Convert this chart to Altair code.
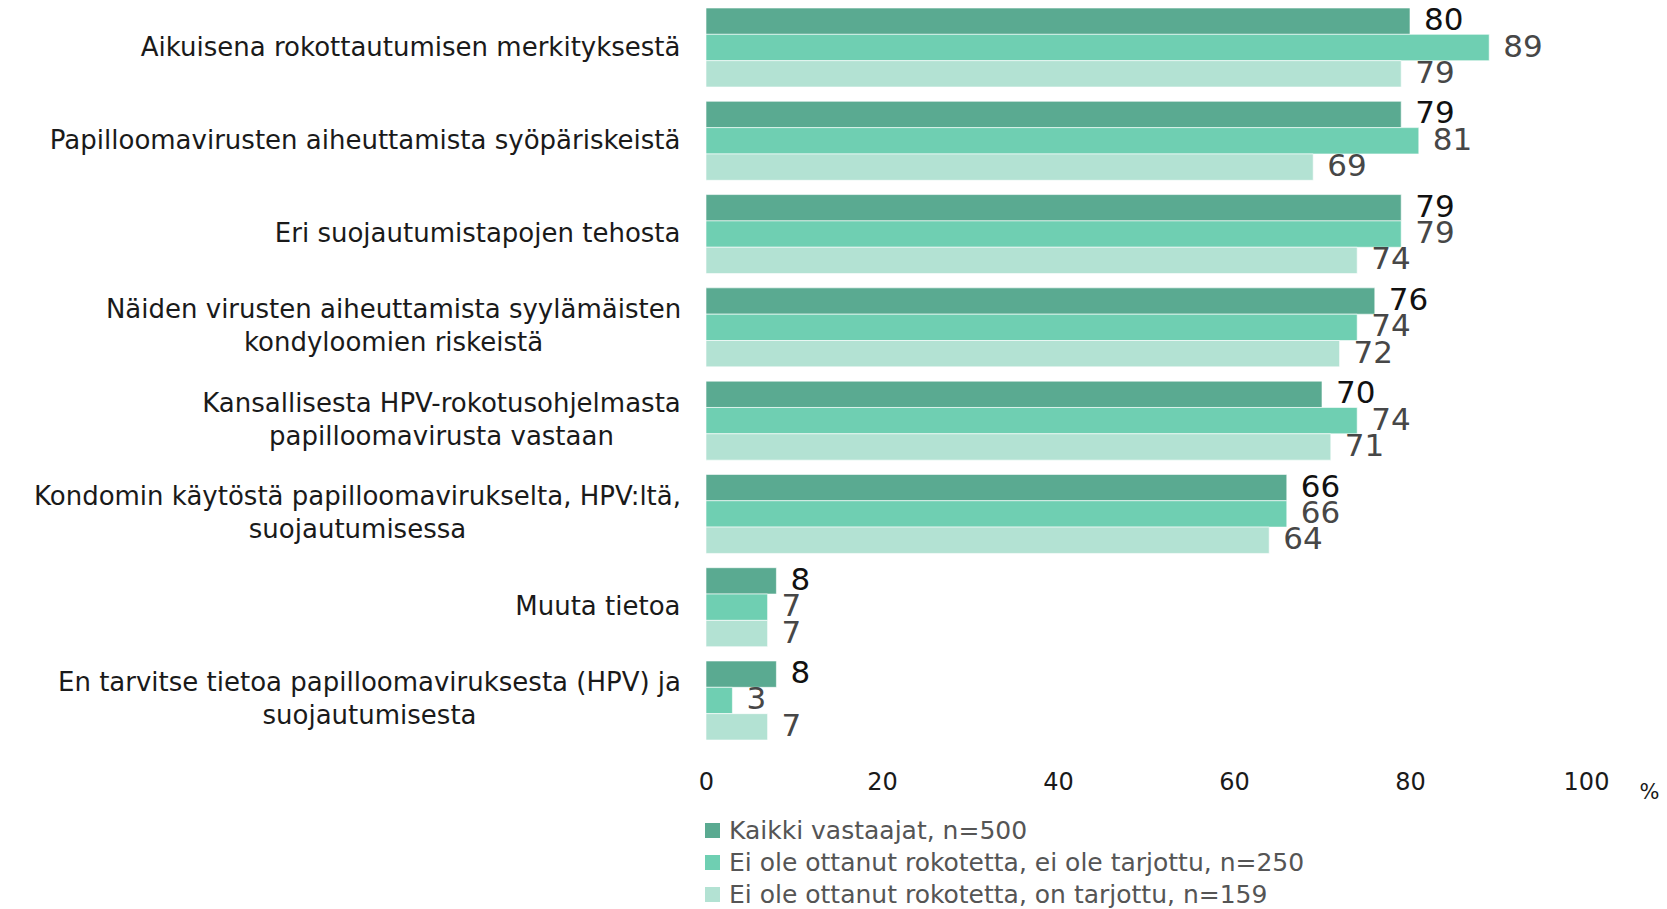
import altair as alt
import pandas as pd

categories = [
    "Aikuisena rokottautumisen merkityksestä",
    "Papilloomavirusten aiheuttamista syöpäriskeistä",
    "Eri suojautumistapojen tehosta",
    "Näiden virusten aiheuttamista syylämäisten\nkondyloomien riskeistä",
    "Kansallisesta HPV-rokotusohjelmasta\npapilloomavirusta vastaan",
    "Kondomin käytöstä papilloomavirukselta, HPV:ltä,\nsuojautumisessa",
    "Muuta tietoa",
    "En tarvitse tietoa papilloomaviruksesta (HPV) ja\nsuojautumisesta",
]
series = [
    "Kaikki vastaajat, n=500",
    "Ei ole ottanut rokotetta, ei ole tarjottu, n=250",
    "Ei ole ottanut rokotetta, on tarjottu, n=159",
]
all_respondents = [80, 79, 79, 76, 70, 66, 8, 8]
not_offered = [89, 81, 79, 74, 74, 66, 7, 3]
offered = [79, 69, 74, 72, 71, 64, 7, 7]
colors = ["#5aaa91", "#6fcfb2", "#b3e2d3"]
x_ticks = [0, 20, 40, 60, 80, 100]

rows = []
for s, vals in zip(series, [all_respondents, not_offered, offered]):
    for c, v in zip(categories, vals):
        rows.append({"category": c, "series": s, "value": v})
df = pd.DataFrame(rows)

FONT = "DejaVu Sans"
LABEL_SIZE = 26
BASE_PAD = 26
# approximate half-widths of the first lines of wrapped labels (for centred text blocks)
half_widths = {categories[3]: 287, categories[4]: 239, categories[5]: 323, categories[7]: 311}
multi_test = "indexof(datum.value, '\\n') >= 0"

pad_conditions = [
    {"test": "datum.value == " + repr(c).replace("\\\\n", "\\n"), "value": BASE_PAD + w}
    for c, w in half_widths.items()
]

y_enc = alt.Y(
    "category:N",
    sort=categories,
    scale=alt.Scale(paddingInner=0.153, paddingOuter=0),
    axis=alt.Axis(
        title=None,
        domain=False,
        ticks=False,
        labelPadding={"condition": pad_conditions, "value": BASE_PAD},
        labelAlign={"condition": {"test": multi_test, "value": "center"}, "value": "right"},
        labelOffset={"condition": {"test": multi_test, "value": -17}, "value": 0},
        labelFontSize=LABEL_SIZE,
        labelFont=FONT,
        labelColor="#1a1a1a",
        labelLimit=800,
        labelLineHeight=33,
        labelExpr="split(datum.value, '\\n')",
    ),
)
yoff = alt.YOffset("series:N", sort=series, scale=alt.Scale(paddingInner=0, paddingOuter=0))

bars = alt.Chart(df).mark_bar(stroke="white", strokeWidth=0.6).encode(
    x=alt.X(
        "value:Q",
        scale=alt.Scale(domain=[0, 100], nice=False),
        axis=alt.Axis(
            values=x_ticks,
            grid=False,
            domain=False,
            ticks=False,
            labelFont=FONT,
            labelFontSize=24,
            labelColor="#1a1a1a",
            labelPadding=30,
            labelFlush=False,
            title="%",
            titleFont=FONT,
            titleFontSize=21,
            titleFontWeight="normal",
            titleColor="#1a1a1a",
            titleX=943,
            titleY=52,
            titleAlign="center",
            titleBaseline="middle",
        ),
    ),
    y=y_enc,
    yOffset=yoff,
    color=alt.Color(
        "series:N",
        sort=series,
        scale=alt.Scale(domain=series, range=colors),
        legend=alt.Legend(
            title=None,
            orient="none",
            legendX=-6,
            legendY=810,
            direction="vertical",
            symbolType="square",
            symbolSize=225,
            symbolStrokeWidth=0,
            symbolOffset=0,
            labelFont=FONT,
            labelFontSize=25,
            labelColor="#555555",
            labelLimit=900,
            rowPadding=6,
            labelOffset=4,
        ),
    ),
)

labels = alt.Chart(df).mark_text(
    align="left", baseline="middle", dx=14, fontSize=31, font=FONT
).encode(
    x="value:Q",
    y=alt.Y("category:N", sort=categories),
    yOffset=alt.YOffset("series:N", sort=series),
    text="value:Q",
    color=alt.condition(
        alt.datum.series == series[0], alt.value("#111111"), alt.value("#474747")
    ),
)

chart = (
    alt.layer(bars, labels)
    .properties(
        width=880,
        height=732,
        autosize=alt.AutoSizeParams(type="none"),
        padding={"left": 698, "top": 0, "right": 73, "bottom": 169},
    )
    .configure_view(stroke=None)
)

chart.save("out.html", embed_options={"renderer": "svg", "actions": False})
